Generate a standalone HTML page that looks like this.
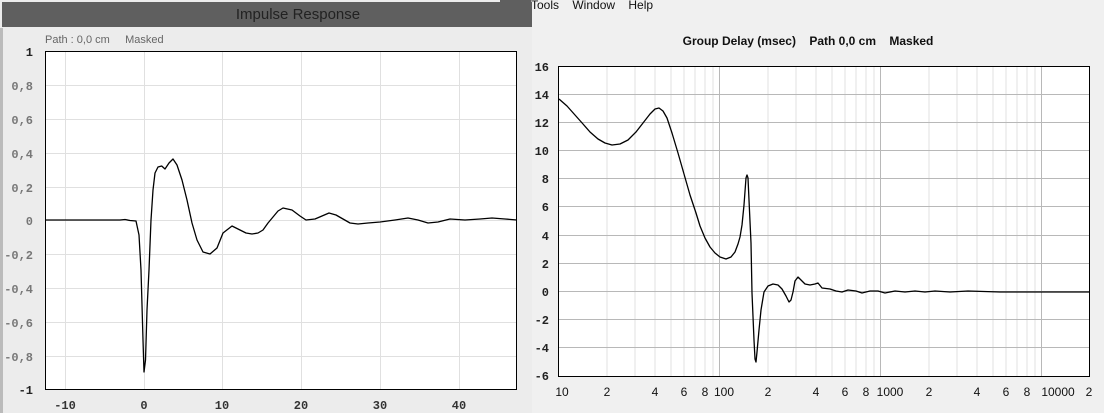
<!DOCTYPE html>
<html><head><style>
body{margin:0;width:1104px;height:413px;background:#f0f0f0;overflow:hidden;position:relative;font-family:"Liberation Sans",sans-serif}
svg{position:absolute;left:0;top:0}
text{white-space:pre}
</style></head><body>
<svg width="1104" height="413" xmlns="http://www.w3.org/2000/svg" xml:space="preserve">
<rect x="0" y="0" width="532" height="413" fill="#ececec"/>
<rect x="0" y="28" width="3" height="385" fill="#bbb"/>
<rect x="2" y="2" width="530" height="25" fill="#5f5f5f"/>
<text x="298" y="19" font-size="15" fill="#222" text-anchor="middle">Impulse Response</text>
<text x="45" y="43" font-size="11" fill="#666">Path : 0,0 cm     Masked</text>
<text x="531" y="9" font-size="12" fill="#111">Tools    Window    Help</text>
<rect x="500" y="0" width="31" height="27" fill="#5f5f5f"/>
<rect x="45.5" y="51.5" width="471" height="338" fill="#fff"/>
<g stroke="#e0e0e0" stroke-width="1">
<line x1="65.5" y1="52" x2="65.5" y2="389"/><line x1="144.5" y1="52" x2="144.5" y2="389"/><line x1="222.5" y1="52" x2="222.5" y2="389"/><line x1="301.5" y1="52" x2="301.5" y2="389"/><line x1="380.5" y1="52" x2="380.5" y2="389"/><line x1="459.5" y1="52" x2="459.5" y2="389"/>
<line x1="46" y1="85.5" x2="516" y2="85.5"/><line x1="46" y1="119.5" x2="516" y2="119.5"/><line x1="46" y1="153.5" x2="516" y2="153.5"/><line x1="46" y1="187.5" x2="516" y2="187.5"/><line x1="46" y1="220.5" x2="516" y2="220.5"/><line x1="46" y1="254.5" x2="516" y2="254.5"/><line x1="46" y1="288.5" x2="516" y2="288.5"/><line x1="46" y1="322.5" x2="516" y2="322.5"/><line x1="46" y1="356.5" x2="516" y2="356.5"/>
</g>
<rect x="45.5" y="51.5" width="471" height="338" fill="none" stroke="#000"/>
<g font-family="Liberation Mono,monospace" font-weight="bold" font-size="12" fill="#777" text-anchor="end">
<text x="33" y="56" fill="#222">1</text><text x="33" y="90">0,8</text><text x="33" y="124">0,6</text><text x="33" y="158">0,4</text><text x="33" y="192">0,2</text><text x="33" y="225">0</text><text x="33" y="259">-0,2</text><text x="33" y="293">-0,4</text><text x="33" y="327">-0,6</text><text x="33" y="361">-0,8</text><text x="33" y="394" fill="#222">-1</text>
</g>
<g font-family="Liberation Mono,monospace" font-weight="bold" font-size="12" fill="#333" text-anchor="middle">
<text x="65" y="409">-10</text><text x="144" y="409">0</text><text x="222" y="409">10</text><text x="301" y="409">20</text><text x="380" y="409">30</text><text x="459" y="409">40</text>
</g>
<polyline fill="none" stroke="#000" stroke-width="1.3" stroke-linejoin="round" points="46,220 120,220 125,219.5 130,220.5 136,221 139,235 141,270 143,340 144,372 145.5,360 147,310 149,270 151,220 153,190 155,173 158,167 161.7,166 165,169 169,163 173,159 177,165 182,180 187,200 192,223 197,240 203,252 210,254 217,248 223,233 232,226 240,230 246,233 252,234 258,233 263,230 268,223 273,217 278,211 283,208 292,210 300,216 306,220 315,219 322,216 329,213 336,215 343,219 350,223 358,224 368,223 380,222 395,220 408,218 418,220 428,223 438,222 450,219 465,220 480,219 492,218 505,219 517,220"/>
<text x="808" y="45" font-size="12" font-weight="bold" fill="#111" text-anchor="middle">Group Delay (msec)    Path 0,0 cm    Masked</text>
<rect x="558.5" y="66.5" width="531" height="310" fill="#fff"/>
<g stroke="#e0e0e0" stroke-width="1">
<line x1="607" y1="67" x2="607" y2="376"/><line x1="635" y1="67" x2="635" y2="376"/><line x1="655" y1="67" x2="655" y2="376"/><line x1="671" y1="67" x2="671" y2="376"/><line x1="684" y1="67" x2="684" y2="376"/><line x1="695" y1="67" x2="695" y2="376"/><line x1="705" y1="67" x2="705" y2="376"/><line x1="713" y1="67" x2="713" y2="376"/>
<line x1="768" y1="67" x2="768" y2="376"/><line x1="796" y1="67" x2="796" y2="376"/><line x1="816" y1="67" x2="816" y2="376"/><line x1="832" y1="67" x2="832" y2="376"/><line x1="845" y1="67" x2="845" y2="376"/><line x1="856" y1="67" x2="856" y2="376"/><line x1="866" y1="67" x2="866" y2="376"/><line x1="874" y1="67" x2="874" y2="376"/>
<line x1="929" y1="67" x2="929" y2="376"/><line x1="957" y1="67" x2="957" y2="376"/><line x1="977" y1="67" x2="977" y2="376"/><line x1="993" y1="67" x2="993" y2="376"/><line x1="1006" y1="67" x2="1006" y2="376"/><line x1="1017" y1="67" x2="1017" y2="376"/><line x1="1027" y1="67" x2="1027" y2="376"/><line x1="1035" y1="67" x2="1035" y2="376"/>
</g>
<g stroke="#b8b8b8" stroke-width="1">
<line x1="719.5" y1="67" x2="719.5" y2="376"/><line x1="880.5" y1="67" x2="880.5" y2="376"/><line x1="1041.5" y1="67" x2="1041.5" y2="376"/>
<line x1="559" y1="94.5" x2="1089" y2="94.5"/><line x1="559" y1="122.5" x2="1089" y2="122.5"/><line x1="559" y1="150.5" x2="1089" y2="150.5"/><line x1="559" y1="178.5" x2="1089" y2="178.5"/><line x1="559" y1="206.5" x2="1089" y2="206.5"/><line x1="559" y1="235.5" x2="1089" y2="235.5"/><line x1="559" y1="263.5" x2="1089" y2="263.5"/><line x1="559" y1="291.5" x2="1089" y2="291.5"/><line x1="559" y1="319.5" x2="1089" y2="319.5"/><line x1="559" y1="347.5" x2="1089" y2="347.5"/>
</g>
<rect x="558.5" y="66.5" width="531" height="310" fill="none" stroke="#000"/>
<g font-family="Liberation Mono,monospace" font-weight="bold" font-size="12" fill="#222" text-anchor="end">
<text x="549" y="71">16</text><text x="549" y="99">14</text><text x="549" y="127">12</text><text x="549" y="155">10</text><text x="549" y="183">8</text><text x="549" y="211">6</text><text x="549" y="240">4</text><text x="549" y="268">2</text><text x="549" y="296">0</text><text x="549" y="324">-2</text><text x="549" y="352">-4</text><text x="549" y="380">-6</text>
</g>
<g font-family="Liberation Sans,sans-serif" font-size="12" fill="#111" text-anchor="middle">
<text x="562" y="396">10</text><text x="607" y="396">2</text><text x="655" y="396">4</text><text x="684" y="396">6</text><text x="705" y="396">8</text><text x="724" y="396">100</text><text x="768" y="396">2</text><text x="816" y="396">4</text><text x="845" y="396">6</text><text x="866" y="396">8</text><text x="890" y="396">1000</text><text x="929" y="396">2</text><text x="977" y="396">4</text><text x="1006" y="396">6</text><text x="1027" y="396">8</text><text x="1058" y="396">10000</text><text x="1089" y="396">2</text>
</g>
<polyline fill="none" stroke="#000" stroke-width="1.3" stroke-linejoin="round" points="559,99 567,106 575,115 583,124 590,132 598,139 605,143 612,145 620,144 628,140 636,132 643,123 650,114 655,109 659,108 663,111 667,118 672,133 678,153 684,174 690,195 696,213 700,226 705,238 710,247 715,253 720,257 726,259 731,257 735,252 738,244 740,237 742,225 744,205 746,178 747,175 748,178 749,200 751,243 752,293 754,340 755,359 756,362 757,352 759,330 761,310 764,292 768,286 773,284 778,285 782,289 786,296 789,302 791,300 793,292 795,281 798,277 801,280 805,284 810,285 815,284 818,283 822,288 830,289 836,291 842,292 848,290 856,291 862,293 870,291 878,291 885,293 895,291 905,292 915,291 925,292 935,291 950,292 968,291 1000,292 1089,292"/>
</svg>
</body></html>
